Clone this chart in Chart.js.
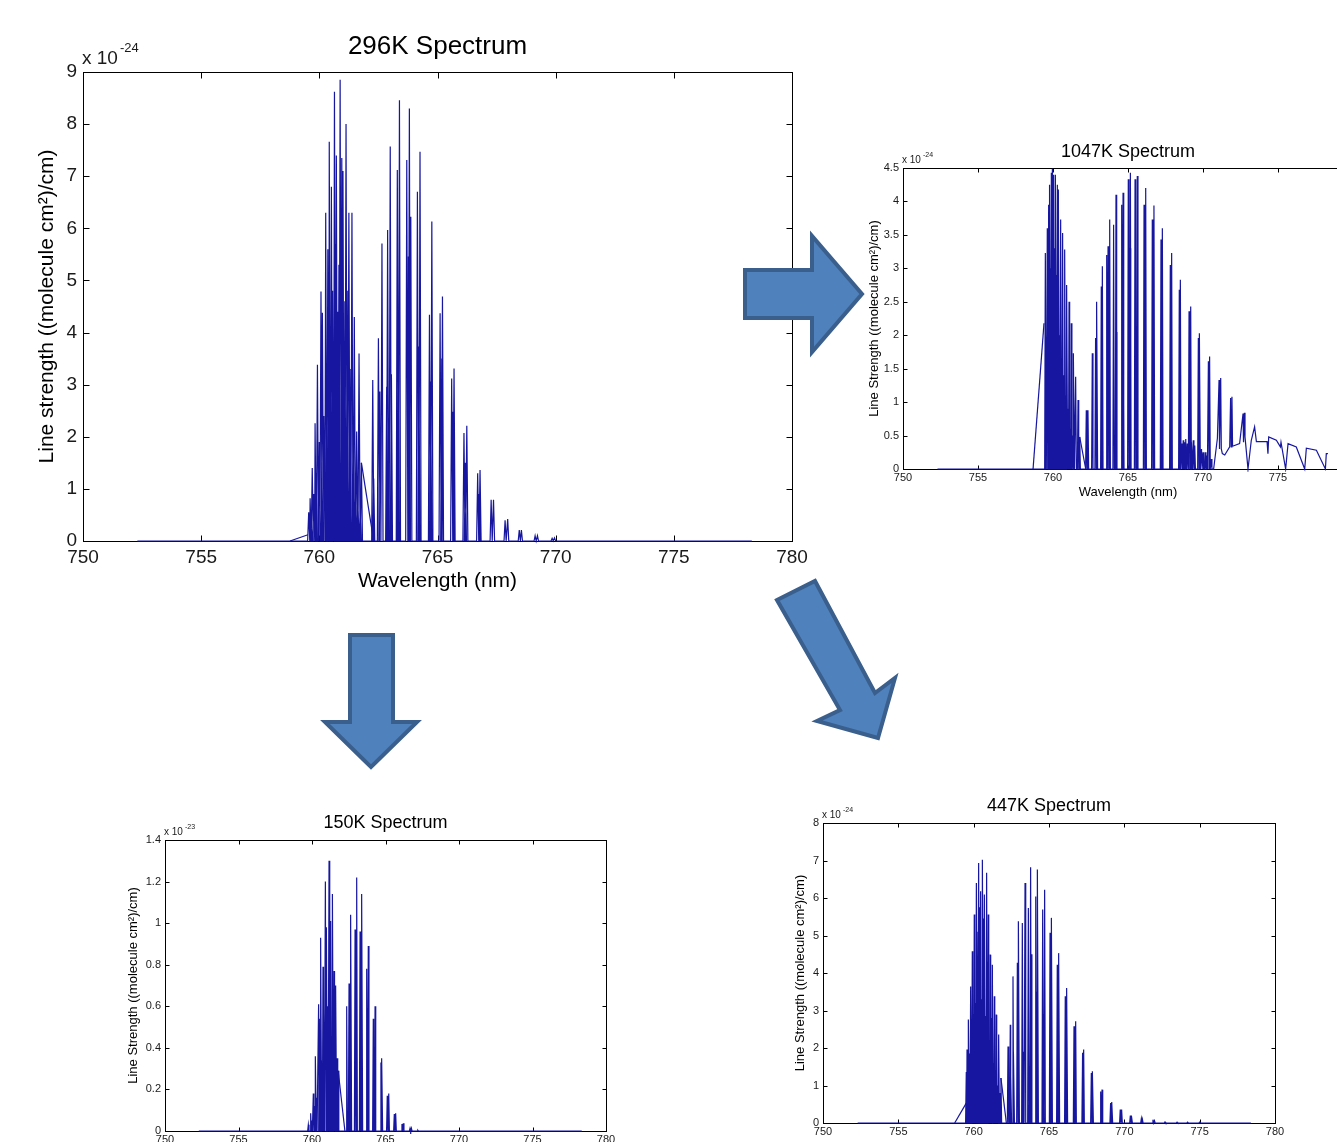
<!DOCTYPE html>
<html>
<head>
<meta charset="utf-8">
<script src="https://cdn.jsdelivr.net/npm/chart.js@4.4.0/dist/chart.umd.min.js"></script>
<style>
  html, body { margin: 0; padding: 0; background: #fff; width: 1337px; height: 1142px; overflow: hidden; position: relative; }
  canvas { position: absolute; }
  #arrows { position: absolute; left: 0; top: 0; pointer-events: none; }
</style>
</head>
<body>
<canvas id="c296" width="830" height="600" style="left:0px;top:0px"></canvas>
<canvas id="c1047" width="530" height="380" style="left:850px;top:130px"></canvas>
<canvas id="c150" width="540" height="380" style="left:100px;top:800px"></canvas>
<canvas id="c447" width="540" height="400" style="left:770px;top:780px"></canvas>
<svg id="arrows" width="1337" height="1142">
  <g fill="#4F81BD" stroke="#3A5F8C" stroke-width="4" stroke-linejoin="miter">
    <polygon points="745,270 812,270 812,236 862,294 812,352 812,318 745,318"/>
    <polygon points="350,635 393,635 393,722 417,722 371,767 325,722 350,722"/>
    <polygon points="777,600 815,581 875,693 895,678 878,738 817,721 840,710"/>
  </g>
</svg>
<script>
// wavelength ticks (nm)
const xTicks = [750, 755, 760, 765, 770, 775, 780];

// 296K spectrum, line strength in units of 1e-24
const yTicks296 = [0, 1, 2, 3, 4, 5, 6, 7, 8, 9];
const base296 = [752.3, 778.3];
const wl296 = [759.55, 759.61, 759.65, 759.70, 759.76, 759.82, 759.87, 759.92, 760.00, 760.07, 760.13, 760.19, 760.27, 760.32,
  760.36, 760.42, 760.47, 760.51, 760.56, 760.64, 760.69, 760.72, 760.78, 760.83, 760.88, 760.95, 761.00, 761.04, 761.08,
  761.13, 761.18, 761.25, 761.30, 761.38, 761.43, 761.48, 761.53, 761.58, 761.63, 761.68, 761.73, 761.78,
  762.26, 762.30, 762.50, 762.56, 762.65, 762.85, 762.89, 763.00, 763.05, 763.30, 763.34, 763.39, 763.70, 763.77, 763.81,
  763.87, 764.15, 764.21, 764.26, 764.66, 764.71, 764.76, 765.11, 765.18, 765.21, 765.60, 765.66, 765.70, 766.12, 766.18,
  766.24, 766.70, 766.76, 766.80, 767.27, 767.37, 767.86, 767.97, 768.46, 768.55, 769.13, 769.23, 769.85, 769.95];
const s296 = [0.55, 0.82, 0.35, 1.40, 0.90, 2.26, 1.30, 3.38, 1.90, 4.79, 4.38, 2.40, 6.30, 3.10,
  5.60, 7.66, 3.90, 6.80, 4.80, 8.62, 5.70, 7.40, 4.40, 5.30, 8.85, 7.35, 7.10, 3.00, 4.60,
  8.00, 4.80, 6.30, 3.30, 6.30, 2.40, 4.30, 1.20, 2.10, 0.80, 3.60, 0.60, 1.50,
  3.09, 1.20, 3.89, 2.87, 5.71, 2.96, 5.97, 7.57, 3.20, 7.12, 4.10, 8.46, 7.31, 5.46, 8.30,
  6.22, 6.70, 3.73, 7.47, 4.34, 3.06, 6.13, 4.37, 3.50, 4.69, 3.12, 2.48, 3.31, 2.07, 1.50,
  2.21, 1.30, 0.90, 1.36, 0.79, 0.79, 0.40, 0.42, 0.21, 0.21, 0.10, 0.10, 0.05, 0.06];
const rampWl296 = [[758.76, 759.52], [761.78, 762.30]];
const rampS296 = [[0, 0.12], [1.50, 0]];

// 1047K spectrum, units of 1e-24
const yTicks1047 = [0, 0.5, 1, 1.5, 2, 2.5, 3, 3.5, 4, 4.5];
const base1047 = [752.3];
const wl1047 = [759.49, 759.51, 759.62, 759.66, 759.71, 759.75, 759.78, 759.84, 759.89, 759.96, 760.00, 760.04, 760.10,
  760.18, 760.24, 760.29, 760.38, 760.44, 760.51, 760.57, 760.64, 760.72, 760.80, 760.86, 760.93, 761.00, 761.07, 761.15,
  761.22, 761.30, 761.38, 761.51, 761.67, 761.78,
  762.22, 762.33, 762.62, 762.84, 762.93, 763.22, 763.29, 763.58, 763.67, 763.76, 763.78, 764.04, 764.20, 764.22, 764.58,
  764.67, 764.69, 765.02, 765.14, 765.16, 765.47, 765.60, 765.62, 766.07, 766.16, 766.18, 766.62, 766.71, 766.73, 767.20,
  767.27, 767.29, 767.82, 767.89, 767.91, 768.42, 768.47, 768.49, 768.60, 768.68, 768.75, 768.85, 768.95, 769.07, 769.16,
  769.18, 769.25, 769.35, 769.45, 769.69, 769.78, 769.90, 770.00, 770.15, 770.25, 770.36, 770.44, 770.55];
const s1047 = [3.23, 1.98, 3.60, 2.70, 3.95, 3.40, 4.25, 3.00, 4.43, 4.49, 3.80, 4.40, 3.30,
  4.40, 2.90, 4.25, 4.18, 2.00, 3.73, 1.60, 3.53, 1.40, 3.28, 1.10, 2.75, 0.90, 2.50, 0.60,
  2.18, 0.50, 1.73, 1.38, 1.03, 0.48,
  0.88, 0.88, 1.73, 1.96, 2.50, 2.73, 3.03, 3.20, 3.33, 2.40, 3.73, 3.65, 4.10, 2.05, 3.95,
  4.13, 2.20, 4.33, 3.30, 4.43, 4.33, 2.00, 4.38, 3.95, 2.00, 4.20, 3.73, 1.80, 3.94, 3.43,
  1.60, 3.60, 3.05, 1.60, 3.23, 2.68, 1.40, 2.83, 0.38, 0.43, 0.40, 0.45, 0.38, 2.36, 1.40,
  2.43, 0.40, 0.43, 0.35, 1.96, 2.03, 0.30, 0.25, 0.25, 0.20, 1.61, 1.68, 0.15];
// raw trace of the long-wavelength tail (does not return to zero)
const tailWl1047 = [770.60, 770.71, 770.96, 771.07, 771.10, 771.18, 771.22, 771.29, 771.45, 771.78, 771.84, 771.88, 771.93,
  771.97, 772.44, 772.67, 772.70, 772.76, 772.80, 773.00, 773.22, 773.44, 773.56, 774.27, 774.33, 774.38, 774.89, 775.16,
  775.20, 775.51, 775.67, 776.22, 776.78, 776.89, 777.56, 778.16, 778.22, 778.33];
const tailS1047 = [0, 0, 0.46, 1.33, 0.30, 1.36, 0.30, 0.23, 0.21, 0.33, 1.06, 0.33, 1.08,
  0.34, 0.38, 0.83, 0.40, 0.84, 0.48, 0, 0.43, 0.63, 0.41, 0.41, 0.23, 0.48, 0.43, 0.33,
  0.40, 0, 0.38, 0.33, 0, 0.31, 0.28, 0, 0.23, 0.23];
const rampWl1047 = [[758.67, 759.40], [761.78, 762.18]];
const rampS1047 = [[0, 2.18], [0.48, 0]];

// 150K spectrum, units of 1e-23
const yTicks150 = [0, 0.2, 0.4, 0.6, 0.8, 1, 1.2, 1.4];
const base150 = [752.3, 778.35];
const wl150 = [759.75, 759.91, 759.98, 760.09, 760.16, 760.25, 760.30, 760.45, 760.50, 760.61, 760.66, 760.75, 760.80,
  760.91, 760.95, 761.00, 761.05, 761.16, 761.20, 761.29, 761.33, 761.41, 761.45, 761.50, 761.55, 761.63, 761.68, 761.72, 761.78,
  762.36, 762.52, 762.57, 762.65, 762.93, 763.04, 763.27, 763.32, 763.40, 763.72, 763.78, 763.83, 764.17, 764.22, 764.29,
  764.69, 764.76, 765.12, 765.22, 765.60, 765.69, 766.12, 766.21, 766.67, 766.76, 767.20];
const s150 = [0.03, 0.085, 0.05, 0.18, 0.12, 0.36, 0.16, 0.61, 0.54, 0.93, 0.34, 0.79, 0.59,
  1.20, 0.49, 0.98, 0.60, 1.30, 0.65, 1.01, 0.45, 1.14, 0.30, 0.77, 0.40, 0.70, 0.25, 0.35, 0.29,
  0.60, 0.71, 0.52, 1.04, 0.97, 1.22, 0.96, 0.48, 1.14, 0.78, 0.59, 0.89, 0.54, 0.30, 0.60,
  0.33, 0.35, 0.17, 0.18, 0.082, 0.085, 0.034, 0.037, 0.013, 0.013, 0.004];
const rampWl150 = [[761.78, 762.24]];
const rampS150 = [[0.29, 0]];

// 447K spectrum, units of 1e-24
const yTicks447 = [0, 1, 2, 3, 4, 5, 6, 7, 8];
const base447 = [752.3, 778.4];
const wl447 = [759.51, 759.56, 759.60, 759.67, 759.73, 759.80, 759.85, 759.91, 759.97, 760.04, 760.10, 760.18, 760.22,
  760.33, 760.38, 760.46, 760.51, 760.60, 760.65, 760.71, 760.78, 760.86, 760.91, 760.97, 761.03, 761.10, 761.16, 761.24,
  761.30, 761.37, 761.43, 761.50, 761.56, 761.66, 761.70, 761.81,
  762.28, 762.43, 762.47, 762.61, 762.66, 762.90, 762.99, 763.23, 763.30, 763.41, 763.63, 763.70, 763.78, 763.82, 764.12,
  764.17, 764.25, 764.58, 764.63, 764.71, 765.07, 765.12, 765.18, 765.55, 765.60, 765.66, 766.08, 766.13, 766.19, 766.66,
  766.71, 766.77, 767.23, 767.27, 767.30, 767.81, 767.85, 767.90, 768.43, 768.47, 768.52, 769.09, 769.13, 769.18, 769.73,
  769.82, 770.40, 770.49, 771.13, 771.20, 771.90, 772.00, 772.70, 773.50, 774.20, 775.00];
const s447 = [1.36, 1.96, 0.95, 2.76, 1.85, 3.64, 2.00, 4.58, 2.90, 5.56, 3.20, 6.40, 5.10,
  6.93, 5.75, 6.18, 3.30, 7.02, 5.45, 6.09, 2.85, 6.67, 4.30, 5.56, 2.20, 4.49, 2.80, 4.22,
  1.60, 3.38, 1.40, 2.89, 1.00, 2.36, 0.80, 1.20,
  2.04, 2.62, 1.25, 3.91, 1.90, 4.27, 5.38, 5.33, 1.90, 6.40, 5.73, 1.50, 6.82, 4.50, 6.04,
  3.50, 6.76, 5.69, 2.90, 6.22, 5.07, 2.50, 5.47, 4.22, 3.40, 4.53, 3.38, 1.50, 3.60, 2.58,
  1.30, 2.71, 1.87, 0.95, 1.96, 1.33, 0.65, 1.38, 0.84, 0.42, 0.89, 0.53, 0.27, 0.56, 0.36,
  0.36, 0.20, 0.20, 0.12, 0.10, 0.09, 0.06, 0.03, 0.02, 0.02, 0.02];
const rampWl447 = [[758.74, 759.51], [761.81, 762.17]];
const rampS447 = [[0, 0.53], [1.20, 0]];

const FONT = '"Liberation Sans", Arial, Helvetica, sans-serif';
const LINE = 'rgb(22,22,160)';
const TXT = '#1a1a1a';
const SPIKE = 0.045; // half width of a drawn line, nm

// stick spectrum: baseline, every line up and back down, then the end of the trace
function trace(base, wl, s, tailWl, tailS) {
  const pts = [{ x: base[0], y: 0 }];
  wl.forEach((w, i) => {
    pts.push({ x: w - SPIKE, y: 0 }, { x: w, y: s[i] }, { x: w + SPIKE, y: 0 });
  });
  if (tailWl) tailWl.forEach((w, i) => pts.push({ x: w, y: tailS[i] }));
  else pts.push({ x: base[1], y: 0 });
  return pts;
}

// MATLAB style box, inward ticks on all sides and the "x 10^n" multiplier
const matlabBox = {
  id: 'matlabBox',
  beforeDatasetsDraw(chart, args, o) {
    const { ctx, chartArea: a, scales: { x, y } } = chart;
    const L = Math.round(a.left) + 0.5, T = Math.round(a.top) + 0.5;
    const R = Math.round(a.right) + 0.5, B = Math.round(a.bottom) + 0.5;
    ctx.save();
    ctx.strokeStyle = '#000';
    ctx.lineWidth = 1;
    ctx.strokeRect(L, T, R - L, B - T);
    ctx.beginPath();
    x.ticks.forEach(t => {
      const p = Math.round(x.getPixelForValue(t.value)) + 0.5;
      ctx.moveTo(p, B); ctx.lineTo(p, B - o.tick);
      ctx.moveTo(p, T); ctx.lineTo(p, T + o.tick);
    });
    y.ticks.forEach(t => {
      const p = Math.round(y.getPixelForValue(t.value)) + 0.5;
      ctx.moveTo(L, p); ctx.lineTo(L + o.tick, p);
      ctx.moveTo(R, p); ctx.lineTo(R - o.tick, p);
    });
    ctx.stroke();
    ctx.fillStyle = TXT;
    ctx.textAlign = 'left';
    ctx.textBaseline = 'alphabetic';
    ctx.font = o.expSize + 'px ' + FONT;
    ctx.fillText('x 10', a.left - 1, a.top - o.expY);
    const w = ctx.measureText('x 10').width;
    ctx.font = o.supSize + 'px ' + FONT;
    ctx.fillText(o.exp, a.left + w + 1, a.top - o.supY);
    ctx.restore();
  }
};

function spectrum(id, c) {
  const sets = [{ data: c.data }];
  c.rampWl.forEach((r, i) => sets.push({ data: r.map((w, j) => ({ x: w, y: c.rampS[i][j] })) }));
  sets.forEach(d => Object.assign(d, { borderColor: LINE, borderWidth: 1.2, pointRadius: 0, tension: 0, fill: false, clip: 3 }));
  return new Chart(document.getElementById(id), {
    type: 'line',
    data: { datasets: sets },
    options: {
      responsive: false,
      animation: false,
      devicePixelRatio: 1,
      events: [],
      layout: { padding: c.pad },
      plugins: {
        legend: { display: false },
        tooltip: { enabled: false },
        title: {
          display: true, text: c.title, fullSize: false, color: '#000',
          font: { family: FONT, size: c.titleSize, weight: 'normal' }, padding: c.titlePad
        },
        matlabBox: c.box
      },
      scales: {
        x: {
          type: 'linear', min: 750, max: 780,
          grid: { display: false, drawTicks: false }, border: { display: false },
          afterBuildTicks: s => { s.ticks = xTicks.map(v => ({ value: v })); },
          ticks: { autoSkip: false, maxRotation: 0, color: TXT, padding: c.xTickPad, font: { family: FONT, size: c.tickSize }, callback: v => String(v) },
          title: { display: true, text: 'Wavelength (nm)', color: '#000', font: { family: FONT, size: c.labelSize }, padding: { top: 0, bottom: c.xTitlePad } },
          afterFit: s => { s.height = c.xH; }
        },
        y: {
          type: 'linear', min: 0, max: c.yTicks[c.yTicks.length - 1],
          grid: { display: false, drawTicks: false }, border: { display: false },
          afterBuildTicks: s => { s.ticks = c.yTicks.map(v => ({ value: v })); },
          ticks: { autoSkip: false, color: TXT, padding: c.yTickPad, font: { family: FONT, size: c.tickSize }, callback: v => String(v) },
          title: { display: true, text: c.yLabel, color: '#000', font: { family: FONT, size: c.labelSize }, padding: { top: c.yTitlePad, bottom: 0 } },
          afterFit: s => { s.width = c.yW; }
        }
      }
    },
    plugins: [matlabBox]
  });
}

spectrum('c296', {
  title: '296K Spectrum', yLabel: 'Line strength ((molecule cm²)/cm)',
  data: trace(base296, wl296, s296), rampWl: rampWl296, rampS: rampS296, yTicks: yTicks296,
  pad: { top: 10, left: 0, right: 38, bottom: 0 }, titleSize: 26, titlePad: { top: 21, bottom: 9.8 },
  tickSize: 19, labelSize: 21, xTickPad: 5, yTickPad: 6, xTitlePad: 6.4, yTitlePad: 34.4, xH: 59, yW: 83,
  box: { tick: 6, exp: '-24', expSize: 19, supSize: 13, expY: 8, supY: 20 }
});

spectrum('c1047', {
  title: '1047K Spectrum', yLabel: 'Line Strength ((molecule cm²)/cm)',
  data: trace(base1047, wl1047, s1047, tailWl1047, tailS1047), rampWl: rampWl1047, rampS: rampS1047, yTicks: yTicks1047,
  pad: { top: 0, left: 0, right: 27, bottom: 0 }, titleSize: 18, titlePad: { top: 11.2, bottom: 5.2 },
  tickSize: 11, labelSize: 13, xTickPad: 2, yTickPad: 4, xTitlePad: 10.2, yTitlePad: 16.2, xH: 41, yW: 53,
  box: { tick: 4, exp: '-24', expSize: 10, supSize: 7, expY: 5, supY: 11 }
});

spectrum('c150', {
  title: '150K Spectrum', yLabel: 'Line Strength ((molecule cm²)/cm)',
  data: trace(base150, wl150, s150), rampWl: rampWl150, rampS: rampS150, yTicks: yTicks150,
  pad: { top: 0, left: 0, right: 34, bottom: 0 }, titleSize: 18, titlePad: { top: 12.2, bottom: 6.2 },
  tickSize: 11, labelSize: 13, xTickPad: 2, yTickPad: 4, xTitlePad: 10, yTitlePad: 25.2, xH: 49, yW: 65,
  box: { tick: 4, exp: '-23', expSize: 10, supSize: 7, expY: 5, supY: 11 }
});

spectrum('c447', {
  title: '447K Spectrum', yLabel: 'Line Strength ((molecule cm²)/cm)',
  data: trace(base447, wl447, s447), rampWl: rampWl447, rampS: rampS447, yTicks: yTicks447,
  pad: { top: 0, left: 0, right: 35, bottom: 0 }, titleSize: 18, titlePad: { top: 15.2, bottom: 6.2 },
  tickSize: 11, labelSize: 13, xTickPad: 2, yTickPad: 4, xTitlePad: 22, yTitlePad: 22.2, xH: 57, yW: 53,
  box: { tick: 4, exp: '-24', expSize: 10, supSize: 7, expY: 5, supY: 11 }
});
</script>
</body>
</html>
